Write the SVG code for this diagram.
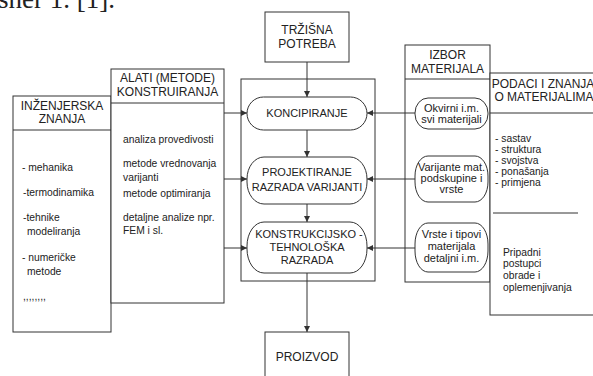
<svg xmlns="http://www.w3.org/2000/svg" width="593" height="376" viewBox="0 0 593 376">
<defs>
<style>
.b{fill:#fff;stroke:#333;stroke-width:1}
.l{fill:none;stroke:#333;stroke-width:1}
.h{font-family:"Liberation Sans",Arial,sans-serif;font-size:12px;fill:#222;text-anchor:middle}
.s{font-family:"Liberation Sans",Arial,sans-serif;font-size:11px;fill:#222;text-anchor:middle}
.r{font-family:"Liberation Sans",Arial,sans-serif;font-size:11px;fill:#222;text-anchor:middle}
.t{font-family:"Liberation Sans",Arial,sans-serif;font-size:10.3px;fill:#222}
</style>
<marker id="a" viewBox="0 0 10 10" refX="10" refY="5" markerWidth="6" markerHeight="6" orient="auto" markerUnits="userSpaceOnUse">
<path d="M0,0 L10,5 L0,10 z" fill="#333"/>
</marker>
</defs>
<rect width="593" height="376" fill="#fff"/>
<text x="-2" y="8" font-family="'Liberation Serif',serif" font-size="27" fill="#222">sner 1. [1].</text>

<g id="inzenjerska">
<rect class="b" x="13" y="96" width="98" height="236"/>
<line class="l" x1="13" y1="130" x2="111" y2="130"/>
<text class="h" x="62" y="110">INŽENJERSKA</text>
<text class="h" x="62" y="123">ZNANJA</text>
<text class="t" x="22" y="171">- mehanika</text>
<text class="t" x="23" y="196">-termodinamika</text>
<text class="t" x="23" y="221">-tehnike</text>
<text class="t" x="27" y="235">modeliranja</text>
<text class="t" x="22" y="261">- numeričke</text>
<text class="t" x="27" y="275">metode</text>
<text class="t" x="23" y="300">,,,,,,,,</text>
</g>

<g id="alati">
<rect class="b" x="111" y="69" width="113" height="234"/>
<line class="l" x1="111" y1="103" x2="224" y2="103"/>
<text class="h" x="167.5" y="82">ALATI (METODE)</text>
<text class="h" x="167.5" y="96">KONSTRUIRANJA</text>
<text class="t" x="123" y="143">analiza provedivosti</text>
<text class="t" x="123" y="167">metode vrednovanja</text>
<text class="t" x="123" y="181">varijanti</text>
<text class="t" x="123" y="197">metode optimiranja</text>
<text class="t" x="123" y="221">detaljne analize npr.</text>
<text class="t" x="123" y="234">FEM i sl.</text>
</g>

<g id="trzisna">
<rect class="b" x="265" y="12" width="84" height="50"/>
<text class="h" x="307" y="34">TRŽIŠNA</text>
<text class="h" x="307" y="48">POTREBA</text>
</g>

<g id="proces">
<rect class="b" x="241" y="79" width="134" height="202"/>
</g>

<g id="koncipiranje">
<rect class="b" x="247" y="97" width="120" height="33" rx="16.5" ry="16.5"/>
<text class="s" x="307" y="117">KONCIPIRANJE</text>
</g>

<g id="projektiranje">
<rect class="b" x="247" y="157" width="120" height="47" rx="17" ry="22"/>
<text class="s" x="307" y="176">PROJEKTIRANJE</text>
<text class="s" x="307" y="191">RAZRADA VARIJANTI</text>
</g>

<g id="konstrukcijsko">
<rect class="b" x="247" y="222" width="120" height="51" rx="17" ry="24"/>
<text class="s" x="309" y="238">KONSTRUKCIJSKO -</text>
<text class="s" x="307" y="251">TEHNOLOŠKA</text>
<text class="s" x="307" y="264">RAZRADA</text>
</g>

<g id="proizvod">
<rect class="b" x="265" y="332" width="84" height="60"/>
<text class="h" x="307" y="361">PROIZVOD</text>
</g>

<g id="izbor">
<rect class="b" x="405" y="45" width="85" height="237"/>
<line class="l" x1="405" y1="79" x2="490" y2="79"/>
<text class="h" x="447.5" y="59">IZBOR</text>
<text class="h" x="447.5" y="73">MATERIJALA</text>
</g>

<g id="okvirni">
<rect class="b" x="415" y="98" width="73" height="31" rx="13" ry="15"/>
<text class="r" x="451.5" y="112">Okvirni i.m.</text>
<text class="r" x="451.5" y="123">svi materijali</text>
</g>

<g id="varijante">
<rect class="b" x="415" y="156" width="73" height="46" rx="13" ry="20"/>
<text class="r" x="451.5" y="171">Varijante mat.</text>
<text class="r" x="451.5" y="182">podskupine i</text>
<text class="r" x="451.5" y="193">vrste</text>
</g>

<g id="vrste">
<rect class="b" x="415" y="223" width="73" height="49" rx="13" ry="21"/>
<text class="r" x="451.5" y="238">Vrste i tipovi</text>
<text class="r" x="451.5" y="250">materijala</text>
<text class="r" x="451.5" y="262">detaljni i.m.</text>
</g>

<g id="podaci">
<rect class="b" x="490" y="73" width="110" height="242"/>
<line class="l" x1="490" y1="113" x2="600" y2="113"/>
<text class="h" x="543" y="88">PODACI I ZNANJA</text>
<text class="h" x="544" y="101">O MATERIJALIMA</text>
<text class="t" x="495" y="142">- sastav</text>
<text class="t" x="495" y="153">- struktura</text>
<text class="t" x="495" y="164">- svojstva</text>
<text class="t" x="495" y="175">- ponašanja</text>
<text class="t" x="495" y="186">- primjena</text>
<line class="l" x1="493" y1="213" x2="578" y2="213"/>
<text class="t" x="503" y="256">Pripadni</text>
<text class="t" x="503" y="267">postupci</text>
<text class="t" x="503" y="279">obrade i</text>
<text class="t" x="503" y="291">oplemenjivanja</text>
</g>

<g id="connectors">
<line class="l" x1="307" y1="62" x2="307" y2="97" marker-end="url(#a)"/>
<line class="l" x1="307" y1="130" x2="307" y2="157" marker-end="url(#a)"/>
<line class="l" x1="307" y1="204" x2="307" y2="222" marker-end="url(#a)"/>
<line class="l" x1="307" y1="273" x2="307" y2="332" marker-end="url(#a)"/>
<line class="l" x1="224" y1="113" x2="247" y2="113" marker-end="url(#a)"/>
<line class="l" x1="224" y1="179" x2="247" y2="179" marker-end="url(#a)"/>
<line class="l" x1="224" y1="248" x2="247" y2="248" marker-end="url(#a)"/>
<line class="l" x1="415" y1="113" x2="367" y2="113" marker-end="url(#a)"/>
<line class="l" x1="415" y1="179" x2="367" y2="179" marker-end="url(#a)"/>
<line class="l" x1="415" y1="248" x2="367" y2="248" marker-end="url(#a)"/>
</g>
</svg>
